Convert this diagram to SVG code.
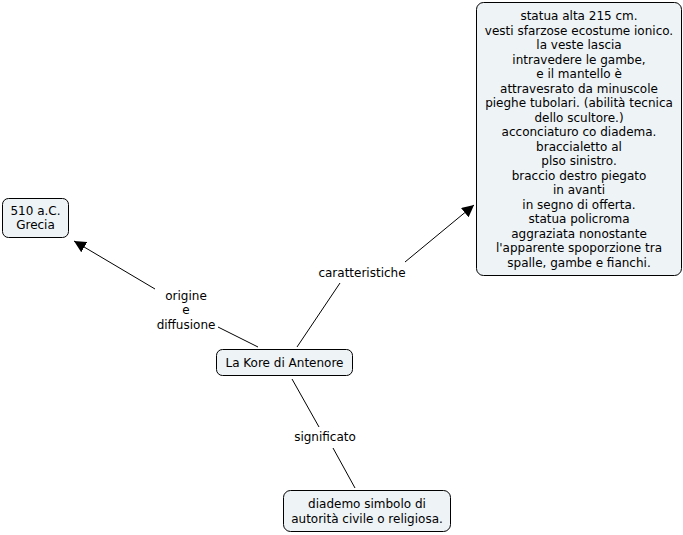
<svg xmlns="http://www.w3.org/2000/svg" width="683" height="535" viewBox="0 0 683 535">
<style>
.node rect{fill:#eef3f6;stroke:#000;stroke-width:1}
text{font-family:"DejaVu Sans",Verdana,sans-serif;font-size:12px;fill:#000;text-anchor:middle}
.conn line{stroke:#000;stroke-width:1}
</style>
<defs>
<marker id="arr" viewBox="0 0 10 10" refX="10" refY="5" markerWidth="12" markerHeight="12" markerUnits="userSpaceOnUse" orient="auto">
<path d="M0,0 L10,5 L0,10 z" fill="#000"/>
</marker>
</defs>
<rect width="683" height="535" fill="#fff"/>
<g id="connectors" class="conn">
<line x1="258" y1="347" x2="218" y2="327"/>
<line x1="155" y1="289" x2="74" y2="241" marker-end="url(#arr)"/>
<line x1="297" y1="347" x2="340" y2="283"/>
<line x1="405" y1="262" x2="474" y2="205" marker-end="url(#arr)"/>
<line x1="292" y1="379" x2="319" y2="427"/>
<line x1="333" y1="448" x2="355" y2="488"/>
</g>
<g id="labels">
<text x="186" y="300">origine</text>
<text x="186" y="314">e</text>
<text x="186" y="329">diffusione</text>
<text x="362" y="277">caratteristiche</text>
<text x="325" y="441">significato</text>
</g>
<g id="n-main" class="node">
<rect x="216.5" y="349.5" width="136" height="26" rx="6"/>
<text x="284.5" y="367">La Kore di Antenore</text>
</g>
<g id="n-origin" class="node">
<rect x="2.5" y="198.5" width="66" height="39" rx="6"/>
<text x="35.5" y="215">510 a.C.</text>
<text x="35.5" y="229">Grecia</text>
</g>
<g id="n-caratt" class="node">
<rect x="476.5" y="2.5" width="205" height="273" rx="7"/>
<text x="579" y="20">statua alta 215 cm.</text>
<text x="579" y="34.5">vesti sfarzose ecostume ionico.</text>
<text x="579" y="49">la veste lascia</text>
<text x="579" y="63.5">intravedere le gambe,</text>
<text x="579" y="78">e il mantello è</text>
<text x="579" y="92.5">attravesrato da minuscole</text>
<text x="579" y="107">pieghe tubolari. (abilità tecnica</text>
<text x="579" y="121.5">dello scultore.)</text>
<text x="579" y="136">acconciaturo co diadema.</text>
<text x="579" y="150.5">braccialetto al</text>
<text x="579" y="165">plso sinistro.</text>
<text x="579" y="179.5">braccio destro piegato</text>
<text x="579" y="194">in avanti</text>
<text x="579" y="208.5">in segno di offerta.</text>
<text x="579" y="223">statua policroma</text>
<text x="579" y="237.5">aggraziata nonostante</text>
<text x="579" y="252">l'apparente spoporzione tra</text>
<text x="579" y="266.5">spalle, gambe e fianchi.</text>
</g>
<g id="n-signif" class="node">
<rect x="283.5" y="490.5" width="167" height="41" rx="7"/>
<text x="367" y="508">diademo simbolo di</text>
<text x="367" y="523">autorità civile o religiosa.</text>
</g>
</svg>
